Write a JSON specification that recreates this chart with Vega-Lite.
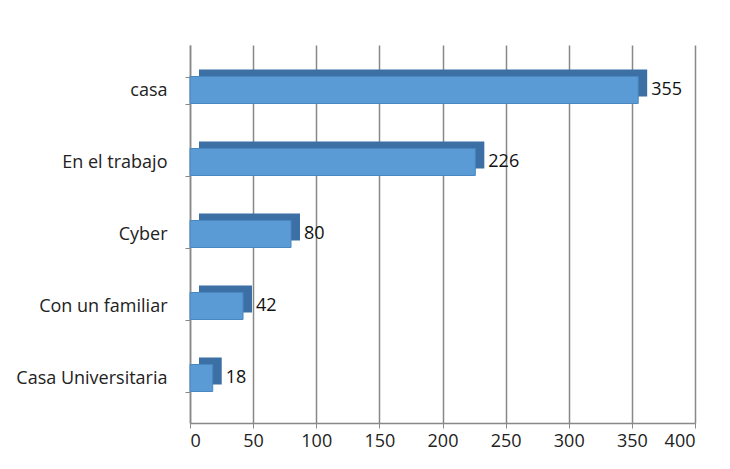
{
  "$schema": "https://vega.github.io/schema/vega-lite/v6.json",
  "width": 505,
  "height": 378,
  "autosize": "none",
  "padding": {"left": 190, "top": 45, "right": 35, "bottom": 46},
  "background": "white",
  "config": {"view": {"stroke": null}, "font": "Open Sans"},
  "data": {"values": [
    {"lugar": "casa", "n": 355},
    {"lugar": "En el trabajo", "n": 226},
    {"lugar": "Cyber", "n": 80},
    {"lugar": "Con un familiar", "n": 42},
    {"lugar": "Casa Universitaria", "n": 18}
  ]},
  "encoding": {
    "y": {"field": "lugar", "type": "nominal", "sort": null,
      "scale": {"paddingInner": 0.625, "paddingOuter": 0.4375},
      "axis": {"title": null, "labelFontSize": 18, "labelColor": "#222", "labelPadding": 18,
        "tickBand": "extent", "tickSize": 5, "tickColor": "#888", "domainColor": "#888", "domainWidth": 1.5, "grid": false}},
    "x": {"field": "n", "type": "quantitative",
      "scale": {"domain": [0, 400], "nice": false},
      "axis": {"title": null, "values": [0,50,100,150,200,250,300,350,400], "labelFontSize": 18, "labelColor": "#222",
        "labelPadding": 4, "tickSize": 5, "tickColor": "#888", "domainColor": "#888", "domainWidth": 1.5,
        "grid": true, "gridColor": "#888", "gridWidth": 1.5}}
  },
  "layer": [
    {"mark": {"type": "bar", "color": "#3C6FA3", "xOffset": 9, "yOffset": -7}},
    {"mark": {"type": "bar", "color": "#5B9BD5", "stroke": "#4A86C0", "strokeWidth": 1}},
    {"mark": {"type": "text", "align": "left", "dx": 13, "fontSize": 18, "color": "#111"},
     "encoding": {"text": {"field": "n", "type": "quantitative"}}}
  ]
}
